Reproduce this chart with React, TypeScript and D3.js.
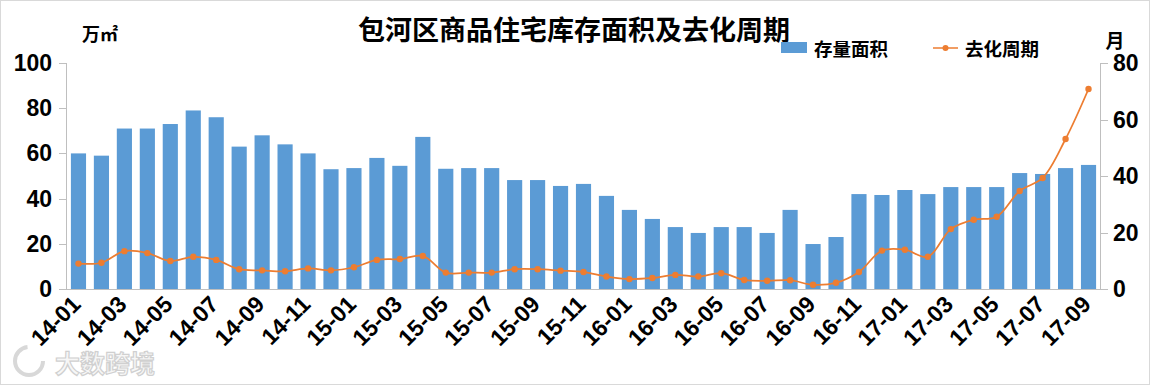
import React from 'react'
import * as d3 from 'd3'

const months = [
  '14-01', '14-02', '14-03', '14-04', '14-05', '14-06', '14-07', '14-08', '14-09', '14-10', '14-11', '14-12',
  '15-01', '15-02', '15-03', '15-04', '15-05', '15-06', '15-07', '15-08', '15-09', '15-10', '15-11', '15-12',
  '16-01', '16-02', '16-03', '16-04', '16-05', '16-06', '16-07', '16-08', '16-09', '16-10', '16-11', '16-12',
  '17-01', '17-02', '17-03', '17-04', '17-05', '17-06', '17-07', '17-08', '17-09',
]

// 存量面积 (万㎡)
const stock = [
  60, 59, 71, 71, 73, 79, 76, 63, 68, 64, 60, 53,
  53.5, 58, 54.5, 67.3, 53.2, 53.5, 53.5, 48.2, 48.2, 45.6, 46.5, 41.2,
  35, 31, 27.4, 24.8, 27.4, 27.4, 24.8, 35, 19.9, 23, 42, 41.6,
  43.8, 42, 45.1, 45.1, 45.1, 51.3, 50.9, 53.5, 54.9,
]

// 去化周期 (月)
const cycle = [
  9, 9.3, 13.4, 12.7, 9.9, 11.4, 10.3, 7, 6.6, 6.3, 7.3, 6.6,
  7.7, 10.3, 10.6, 11.7, 5.8, 5.8, 5.8, 7, 7, 6.5, 6, 4.4,
  3.5, 3.9, 5, 4.4, 5.6, 3.2, 2.9, 3.1, 1.5, 2.2, 6, 13.6,
  13.9, 11.4, 21.2, 24.5, 25.6, 34.7, 39.3, 53.1, 70.8,
]

const leftTicks = [0, 20, 40, 60, 80, 100]
const rightTicks = [0, 20, 40, 60, 80]

const W = 1150
const H = 385
const BLUE = '#5B9BD5'
const ORANGE = '#ED7D31'
const AXIS = '#bfbfbf'
const FONT = '"Liberation Sans", "Noto Sans CJK SC", sans-serif'
const CJK = '"Noto Sans CJK SC", sans-serif'

export default function App() {
  const plot = { left: 67, right: 1100, top: 63, bottom: 289 }

  const x = d3.scaleBand<string>()
    .domain(months)
    .range([plot.left, plot.right])
    .paddingInner(0.34)
    .paddingOuter(0.17)
  const yL = d3.scaleLinear().domain([0, 100]).range([plot.bottom, plot.top])
  const yR = d3.scaleLinear().domain([0, 80]).range([plot.bottom, plot.top])

  const cx = (m: string) => (x(m) as number) + x.bandwidth() / 2

  const line = d3.line<number>()
    .x((_, i) => cx(months[i]))
    .y(v => yR(v))
    .curve(d3.curveCatmullRom.alpha(0.5))

  return (
    <svg width={W} height={H} style={{ position: 'absolute', left: 0, top: 0, background: '#fff' }}>
      <rect x={0.5} y={0.5} width={W - 1} height={H - 1} fill="#fff" stroke="#d9d9d9" />

      <text x={574} y={28} textAnchor="middle" dominantBaseline="central"
        fontFamily={CJK} fontWeight="bold" fontSize={27} fill="#000">
        包河区商品住宅库存面积及去化周期
      </text>

      <text x={82} y={33} dominantBaseline="central" fontFamily={CJK} fontWeight="bold" fontSize={18} fill="#000">万㎡</text>
      <text x={1115} y={39} textAnchor="middle" dominantBaseline="central" fontFamily={CJK} fontWeight="bold" fontSize={19} fill="#000">月</text>

      {/* legend */}
      <rect x={781} y={42} width={26} height={11} fill={BLUE} />
      <text x={814} y={48} dominantBaseline="central" fontFamily={CJK} fontWeight="bold" fontSize={18.5} fill="#000">存量面积</text>
      <line x1={933} x2={958} y1={48} y2={48} stroke={ORANGE} strokeWidth={1.5} />
      <circle cx={945.5} cy={48} r={3} fill={ORANGE} />
      <text x={965} y={48} dominantBaseline="central" fontFamily={CJK} fontWeight="bold" fontSize={18.5} fill="#000">去化周期</text>

      {/* bars */}
      {stock.map((v, i) => (
        <rect key={months[i]} x={x(months[i])} y={yL(v)} width={x.bandwidth()}
          height={yL(0) - yL(v)} fill={BLUE} />
      ))}

      {/* axes */}
      <line x1={plot.left} x2={plot.right} y1={plot.bottom + 0.5} y2={plot.bottom + 0.5} stroke={AXIS} />
      <line x1={plot.left - 0.5} x2={plot.left - 0.5} y1={plot.top} y2={plot.bottom} stroke={AXIS} />
      <line x1={plot.right + 0.5} x2={plot.right + 0.5} y1={plot.top} y2={plot.bottom} stroke={AXIS} />
      {leftTicks.map(t => (
        <g key={'l' + t}>
          <line x1={plot.left - 8} x2={plot.left} y1={Math.round(yL(t)) + 0.5} y2={Math.round(yL(t)) + 0.5} stroke={AXIS} />
          <text x={52} y={yL(t)} textAnchor="end" dominantBaseline="central"
            fontFamily={FONT} fontWeight="bold" fontSize={23} fill="#000">{t}</text>
        </g>
      ))}
      {rightTicks.map(t => (
        <g key={'r' + t}>
          <line x1={plot.right} x2={plot.right + 8} y1={Math.round(yR(t)) + 0.5} y2={Math.round(yR(t)) + 0.5} stroke={AXIS} />
          <text x={1113} y={yR(t)} dominantBaseline="central"
            fontFamily={FONT} fontWeight="bold" fontSize={23} fill="#000">{t}</text>
        </g>
      ))}

      {/* x labels */}
      {months.map((m, i) => i % 2 === 0 ? (
        <text key={'x' + m} transform={`translate(${cx(m) - 2}, 300) rotate(-45)`}
          textAnchor="end" dominantBaseline="central"
          fontFamily={FONT} fontWeight="bold" fontSize={23} fill="#000">{m}</text>
      ) : null)}

      {/* line series */}
      <path d={line(cycle) || ''} fill="none" stroke={ORANGE} strokeWidth={1.75} />
      {cycle.map((v, i) => (
        <circle key={'c' + i} cx={cx(months[i])} cy={yR(v)} r={3.2} fill={ORANGE} />
      ))}

      {/* watermark */}
      <g opacity={0.7}>
        <circle cx={29} cy={361} r={14} fill="none" stroke="#c8c8c8" strokeWidth={4} strokeDasharray="64 24" />
        <text x={55} y={362} dominantBaseline="central" fontFamily={CJK} fontWeight="bold" fontSize={25}
          fill="#f4f4f4" stroke="#bdbdbd" strokeWidth={1.2}>大数跨境</text>
      </g>
    </svg>
  )
}
